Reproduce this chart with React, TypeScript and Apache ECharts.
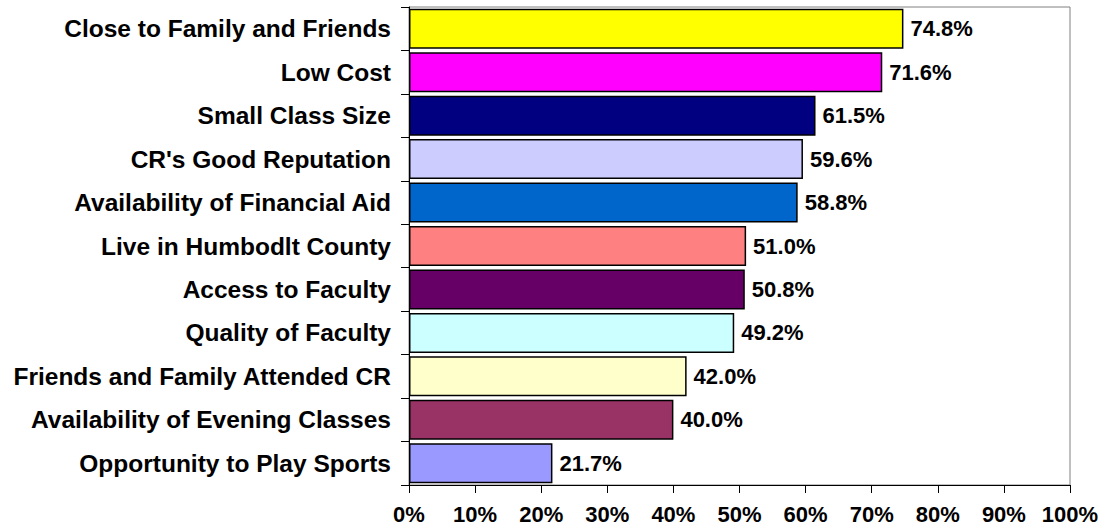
import React, { useEffect, useRef } from "react";
import * as echarts from "echarts";

const categories = [
  "Close to Family and Friends",
  "Low Cost",
  "Small Class Size",
  "CR's Good Reputation",
  "Availability of Financial Aid",
  "Live in Humbodlt County",
  "Access to Faculty",
  "Quality of Faculty",
  "Friends and Family Attended CR",
  "Availability of Evening Classes",
  "Opportunity to Play Sports",
];

const values = [74.8, 71.6, 61.5, 59.6, 58.8, 51.0, 50.8, 49.2, 42.0, 40.0, 21.7];

const barColors = [
  "#FFFF00",
  "#FF00FF",
  "#000080",
  "#CCCCFF",
  "#0066CC",
  "#FF8080",
  "#660066",
  "#CCFFFF",
  "#FFFFCC",
  "#993366",
  "#9999FF",
];

const xTicks = [0, 10, 20, 30, 40, 50, 60, 70, 80, 90, 100];

const FONT = "'Liberation Sans', Arial, Helvetica, sans-serif";

export default function App() {
  const ref = useRef<HTMLDivElement>(null);

  useEffect(() => {
    document.body.style.margin = "0";
    if (!ref.current) return;
    const chart = echarts.init(ref.current, null, { renderer: "svg" });
    chart.setOption({
      animation: false,
      backgroundColor: "#ffffff",
      grid: {
        left: 409,
        right: 39,
        top: 7,
        bottom: 46,
        show: true,
        borderColor: "#808080",
        borderWidth: 1,
        backgroundColor: "transparent",
      },
      xAxis: {
        type: "value",
        min: xTicks[0],
        max: xTicks[xTicks.length - 1],
        interval: 10,
        axisLine: { show: true, lineStyle: { color: "#000", width: 1 } },
        axisTick: { show: true, length: 8, lineStyle: { color: "#000" } },
        splitLine: { show: false },
        axisLabel: {
          formatter: "{value}%",
          color: "#000",
          fontFamily: FONT,
          fontWeight: "bold",
          fontSize: 22,
          margin: 18,
        },
      },
      yAxis: {
        type: "category",
        inverse: true,
        data: categories,
        axisLine: { show: true, lineStyle: { color: "#000", width: 1 } },
        axisTick: { show: true, length: 8, alignWithLabel: false, lineStyle: { color: "#000" } },
        axisLabel: {
          color: "#000",
          fontFamily: FONT,
          fontWeight: "bold",
          fontSize: 24.5,
          margin: 18,
        },
      },
      series: [
        {
          type: "bar",
          data: values.map((v, i) => ({
            value: v,
            itemStyle: { color: barColors[i] },
          })),
          barCategoryGap: "8%",
          itemStyle: { borderColor: "#000", borderWidth: 1.5 },
          label: {
            show: true,
            position: "right",
            distance: 7,
            formatter: (p: any) => Number(p.value).toFixed(1) + "%",
            color: "#000",
            fontFamily: FONT,
            fontWeight: "bold",
            fontSize: 22,
          },
        },
      ],
    });
    return () => chart.dispose();
  }, []);

  return <div ref={ref} style={{ width: 1109, height: 531 }} />;
}
